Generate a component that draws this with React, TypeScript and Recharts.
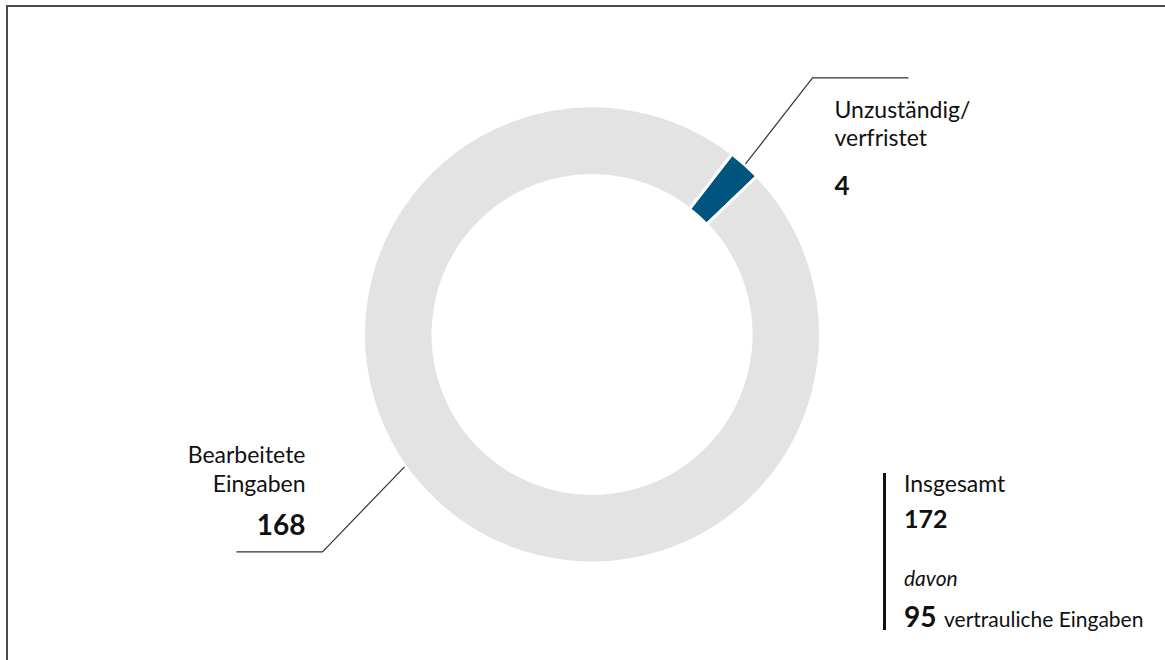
import React from 'react';
import { PieChart, Pie, Cell } from 'recharts';

const categories: string[][] = [['Unzuständig/', 'verfristet'], ['Bearbeitete', 'Eingaben']];
const values: number[] = [4, 168];
const colors: string[] = ['#00557f', '#e3e3e3'];
const totalLabel = 'Insgesamt';
const totalValue = 172;
const subLabel = 'davon';
const confidentialValue = 95;
const confidentialLabel = 'vertrauliche Eingaben';

const data = categories.map((c, i) => ({ name: c.join(' '), lines: c, value: values[i] }));

const FONT = 'Lato, "Open Sans", sans-serif';
const RAD = Math.PI / 180;

const renderLabel = (props: any) => {
  const { cx, cy, outerRadius, midAngle, index } = props;
  const entry = data[index];
  if (index === 0) {
    const a = midAngle;
    const r = outerRadius + 1;
    const sx = cx + r * Math.cos(-a * RAD);
    const sy = cy + r * Math.sin(-a * RAD);
    const ex = sx + 67;
    const ey = sy - 86;
    const tx = ex + 22;
    return (
      <g>
        <polyline points={`${sx},${sy} ${ex},${ey} ${ex + 96},${ey}`} fill="none" stroke="#333" strokeWidth={1.2} />
        <text x={tx} y={ey + 40} fontFamily={FONT} fontSize={23} fill="#111">{entry.lines[0]}</text>
        <text x={tx} y={ey + 68} fontFamily={FONT} fontSize={23} fill="#111">{entry.lines[1]}</text>
        <text x={tx} y={ey + 117} fontFamily={FONT} fontSize={26} fontWeight={700} fill="#111">{entry.value}</text>
      </g>
    );
  }
  const a = midAngle - 12.8;
  const r = outerRadius + 1;
  const sx = cx + r * Math.cos(-a * RAD);
  const sy = cy + r * Math.sin(-a * RAD);
  const ex = sx - 82;
  const ey = sy + 85;
  const tx = ex - 17;
  return (
    <g>
      <polyline points={`${sx},${sy} ${ex},${ey} ${ex - 86},${ey}`} fill="none" stroke="#333" strokeWidth={1.2} />
      <text x={tx} y={ey - 89} textAnchor="end" fontFamily={FONT} fontSize={23} fill="#111">{entry.lines[0]}</text>
      <text x={tx} y={ey - 60} textAnchor="end" fontFamily={FONT} fontSize={23} fill="#111">{entry.lines[1]}</text>
      <text x={tx} y={ey - 17} textAnchor="end" fontFamily={FONT} fontSize={28} fontWeight={700} fill="#111">{entry.value}</text>
    </g>
  );
};

export default function App() {
  return (
    <div style={{ position: 'fixed', left: 0, top: 0, width: 1165, height: 660, background: '#fff', overflow: 'hidden' }}>
      <div style={{ position: 'absolute', left: 6, top: 5, right: -10, bottom: -10, borderTop: '2px solid #4a4a4a', borderLeft: '2px solid #4a4a4a' }} />
      <div style={{ position: 'absolute', left: 0, top: 0 }}>
        <PieChart width={1165} height={660} margin={{ top: 0, right: 0, bottom: 0, left: 0 }}>
          <Pie
            data={data}
            dataKey="value"
            nameKey="name"
            cx={592}
            cy={334.5}
            innerRadius={159}
            outerRadius={228.5}
            startAngle={52.2}
            endAngle={-307.8}
            stroke="#ffffff"
            strokeWidth={3}
            label={renderLabel}
            labelLine={false}
            isAnimationActive={false}
          >
            {data.map((d, i) => (
              <Cell key={d.name} fill={colors[i]} />
            ))}
          </Pie>
        </PieChart>
      </div>
      <svg style={{ position: 'absolute', left: 0, top: 0 }} width={1165} height={660}>
        <rect x={883} y={473} width={3} height={157} fill="#111" />
        <text x={904} y={492} fontFamily={FONT} fontSize={23} fill="#111">{totalLabel}</text>
        <text x={904} y={528} fontFamily={FONT} fontSize={25} fontWeight={700} fill="#111">{totalValue}</text>
        <text x={904} y={586} fontFamily={FONT} fontSize={21} fontStyle="italic" fill="#111">{subLabel}</text>
        <text x={904} y={627} fontFamily={FONT} fontSize={28} fontWeight={700} fill="#111">{confidentialValue}</text>
        <text x={944} y={627} fontFamily={FONT} fontSize={21} fill="#111">{confidentialLabel}</text>
      </svg>
    </div>
  );
}
